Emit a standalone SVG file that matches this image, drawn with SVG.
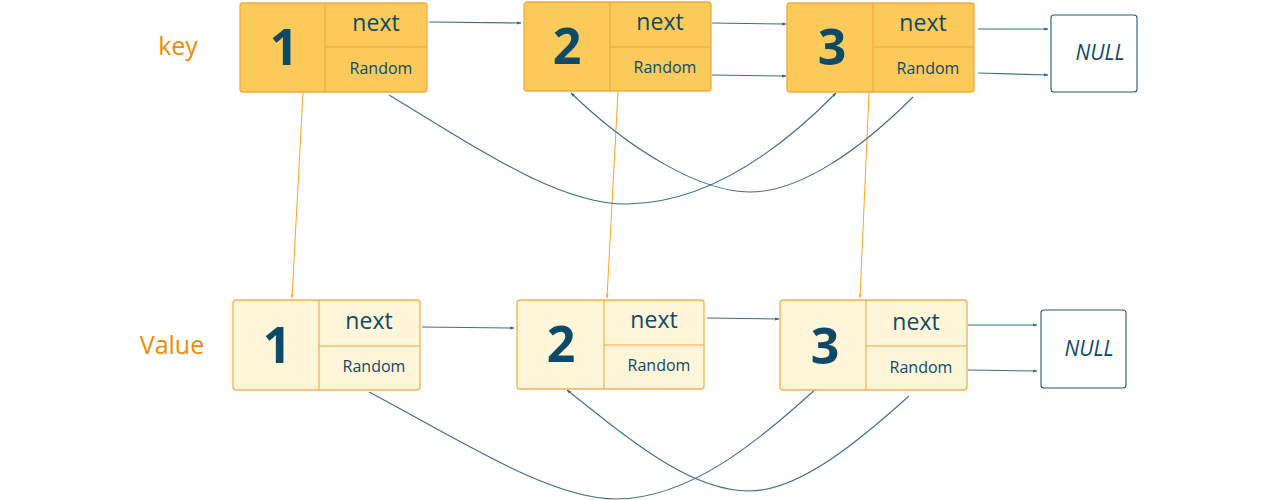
<svg xmlns="http://www.w3.org/2000/svg" width="1280" height="500" viewBox="0 0 1280 500">
<defs>
<style>
.key{fill:#fcc95b;stroke:#f2a93b;stroke-width:1.3}
.val{fill:#fff5d9;stroke:#f5b14c;stroke-width:1.3}
.div{stroke:#f0a63a;stroke-width:1.1;fill:none}
.null{fill:#ffffff;stroke:#1e5b75;stroke-width:1.1}
.num{font-family:"Open Sans",sans-serif;font-weight:700;font-size:50px;fill:#0d4a66;text-anchor:middle}
.nx{font-family:"Open Sans",sans-serif;font-size:23px;fill:#0d4a66;text-anchor:middle}
.rd{font-family:"Open Sans",sans-serif;font-size:16px;fill:#0d4a66;text-anchor:middle}
.nl{font-family:"Open Sans",sans-serif;font-style:italic;font-size:21px;fill:#0d4a66;text-anchor:middle}
.lbl{font-family:"Open Sans",sans-serif;font-size:25px;fill:#f08c00;text-anchor:middle}
.ar{stroke:#3a7089;stroke-width:1.1;fill:none;marker-end:url(#ah)}
.or{stroke:#f5a623;stroke-width:1;fill:none;marker-end:url(#oh)}
</style>
<marker id="ah" viewBox="0 0 10 10" refX="9" refY="5" markerWidth="4" markerHeight="4" orient="auto"><path d="M0,1.5 L10,5 L0,8.5" fill="#2f6a85"/></marker>
<marker id="oh" viewBox="0 0 10 10" refX="9" refY="5" markerWidth="4" markerHeight="4" orient="auto"><path d="M0,1.5 L10,5 L0,8.5" fill="#f5a623"/></marker>
</defs>
<rect width="1280" height="500" fill="#ffffff"/>
<text class="lbl" x="178" y="55">key</text>
<text class="lbl" x="172" y="354">Value</text>
<g id="connectors">
<path class="or" d="M303,93 L292,298"/>
<path class="or" d="M618,92 L607,298"/>
<path class="or" d="M869,93 L860,298"/>
<path class="ar" d="M429,22 L521,23"/>
<path class="ar" d="M712,23 L786,24"/>
<path class="ar" d="M712,75 L786,76"/>
<path class="ar" d="M978,29 L1048,29"/>
<path class="ar" d="M978,73 L1048,75"/>
<path class="ar" d="M389,95 C480,150 560,205 628,204 C700,203 770,160 836,93"/>
<path class="ar" d="M913,97 C860,150 800,192 750,192 C700,192 630,150 571,93"/>
<path class="ar" d="M422,327 L514,328"/>
<path class="ar" d="M707,318 L779,319"/>
<path class="ar" d="M968,325 L1037,325"/>
<path class="ar" d="M968,370 L1037,371"/>
<path class="ar" d="M369,392 C460,440 550,499 616,499 C690,499 760,440 818,387"/>
<path class="ar" d="M909,396 C860,440 800,491 749,491 C690,491 630,440 567,390"/>
</g>
<g id="k1"><rect class="key" x="240" y="3" width="187" height="89" rx="3"/><path class="div" d="M325,3 V92 M325,47 H427"/><text class="num" x="284" y="65">1</text><text class="nx" x="376" y="31">next</text><text class="rd" x="381" y="74">Random</text></g>
<g id="k2"><rect class="key" x="524" y="2" width="187" height="89" rx="3"/><path class="div" d="M610,2 V91 M610,47 H711"/><text class="num" x="567" y="64">2</text><text class="nx" x="660" y="30">next</text><text class="rd" x="665" y="73">Random</text></g>
<g id="k3"><rect class="key" x="787" y="3" width="187" height="89" rx="3"/><path class="div" d="M873,3 V92 M873,47 H974"/><text class="num" x="832" y="65">3</text><text class="nx" x="923" y="31">next</text><text class="rd" x="928" y="74">Random</text></g>
<g id="n1"><rect class="null" x="1051" y="15" width="86" height="77" rx="3"/><text class="nl" x="1100" y="60">NULL</text></g>
<g id="v1"><rect class="val" x="233" y="300" width="187" height="90" rx="3"/><path class="div" d="M319,300 V390 M319,346 H420"/><text class="num" x="277" y="363">1</text><text class="nx" x="369" y="329">next</text><text class="rd" x="374" y="372">Random</text></g>
<g id="v2"><rect class="val" x="517" y="300" width="187" height="89" rx="3"/><path class="div" d="M604,300 V389 M604,345 H704"/><text class="num" x="561" y="362">2</text><text class="nx" x="654" y="328">next</text><text class="rd" x="659" y="371">Random</text></g>
<g id="v3"><rect class="val" x="780" y="300" width="187" height="90" rx="3"/><path class="div" d="M866,300 V390 M866,346 H967"/><text class="num" x="825" y="364">3</text><text class="nx" x="916" y="330">next</text><text class="rd" x="921" y="373">Random</text></g>
<g id="n2"><rect class="null" x="1041" y="310" width="85" height="78" rx="3"/><text class="nl" x="1089" y="356">NULL</text></g>
</svg>
